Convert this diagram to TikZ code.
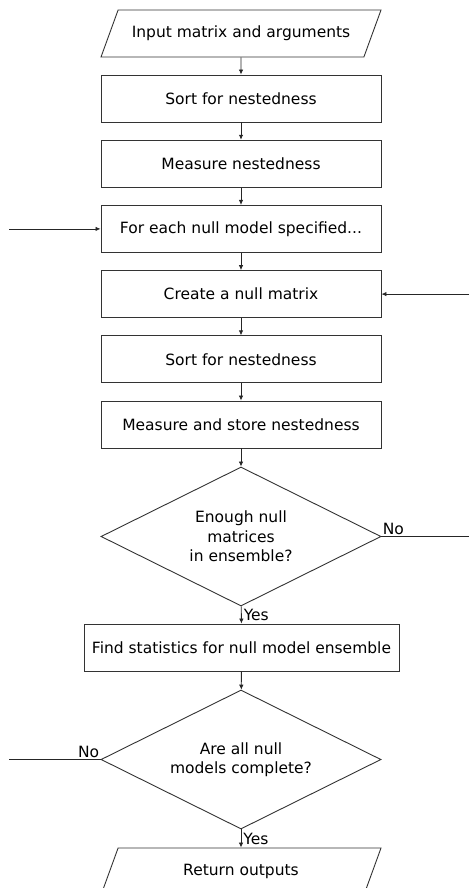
\documentclass[tikz,border=0pt]{standalone}
\usepackage{fontspec}
\setmainfont{DejaVu Sans}
\usetikzlibrary{shapes.geometric,arrows.meta}

\begin{document}
\begin{tikzpicture}[x=1pt, y=-1pt,
		every node/.style={font=\fontsize{15.5}{19.5}\selectfont},
		procbox/.style={draw=black!80, line width=0.9pt, minimum width=280pt, minimum height=47pt, inner sep=0pt},
		iobox/.style={draw=black!80, line width=0.9pt, trapezium, trapezium left angle=70, trapezium right angle=110, trapezium stretches body=true, minimum width=280pt, text height=11.5pt, text depth=3.5pt, inner xsep=0pt, inner ysep=16pt},
		decbox/.style={draw=black!80, line width=0.9pt, diamond, aspect=2, minimum width=280pt, minimum height=139pt, inner sep=0pt, align=center},
		flow/.style={draw=black!85, line width=0.8pt, -{Latex[length=5pt,width=4.5pt]}},
		plain/.style={draw=black!85, line width=0.8pt}]
		%%%%% START %%%%%
		
		\useasboundingbox (0, 0) rectangle (469, 888);
		
		\node[iobox] (input) at (241, 33.5) {Input matrix and arguments};
		\node[procbox] (sortA) at (241, 98.5) {Sort for nestedness};
		\node[procbox] (measA) at (241, 163.7) {Measure nestedness};
		\node[procbox] (foreach) at (241, 228.9) {For each null model specified...};
		\node[procbox] (create) at (241, 294.1) {Create a null matrix};
		\node[procbox] (sortB) at (241, 359.3) {Sort for nestedness};
		\node[procbox] (store) at (241, 424.5) {Measure and store nestedness};
		
		\node[decbox] (enough) at (241, 536.5) {Enough null\\matrices\\in ensemble?};
		\node[procbox, minimum width=315pt] (stats) at (241.5, 647.5) {Find statistics for null model ensemble};
		\node[decbox] (alldone) at (241, 759.5) {Are all null\\models complete?};
		
		\node[iobox] (output) at (241, 871.5) {Return outputs};
		
		% loose ends at the picture's edges
		\coordinate (leftin) at (9, 228.9);
		\coordinate (rightin) at (469, 294.1);
		\coordinate (rightout) at (469, 536.5);
		\coordinate (leftout) at (9, 759.5);
		
		\draw[flow] (input) -- (sortA);
		\draw[flow] (sortA) -- (measA);
		\draw[flow] (measA) -- (foreach);
		\draw[flow] (foreach) -- (create);
		\draw[flow] (create) -- (sortB);
		\draw[flow] (sortB) -- (store);
		\draw[flow] (store) -- (enough);
		\draw[flow] (enough) -- node[anchor=west, inner sep=2pt] {Yes} (stats);
		\draw[flow] (stats) -- (alldone);
		\draw[flow] (alldone) -- node[anchor=west, inner sep=2pt] {Yes} (output);
		
		\draw[flow] (leftin) -- (foreach);
		\draw[flow] (rightin) -- (create);
		\draw[plain] (enough.east) -- node[pos=0, anchor=south west, inner sep=1pt] {No} (rightout);
		\draw[plain] (alldone.west) -- node[pos=0, anchor=south east, inner sep=1pt] {No} (leftout);
		
		%%%%% END %%%%%
	\end{tikzpicture}
\end{document}
